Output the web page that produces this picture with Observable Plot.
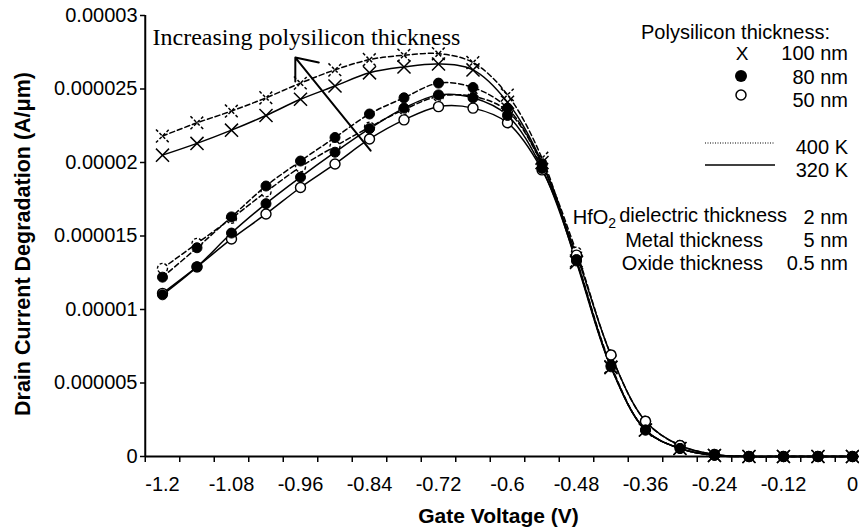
<!DOCTYPE html>
<html>
<head>
<meta charset="utf-8">
<script src="https://cdn.jsdelivr.net/npm/d3@7"></script>
<script src="https://cdn.jsdelivr.net/npm/@observablehq/plot@0.6"></script>
<style>
  html, body { margin: 0; padding: 0; background: #fff; }
  #chart { width: 859px; height: 528px; }
</style>
</head>
<body>
<div id="chart"></div>
<script>
// Gate voltage categories (V)
const voltage = [-1.2, -1.14, -1.08, -1.02, -0.96, -0.9, -0.84, -0.78, -0.72, -0.66, -0.6,
                 -0.54, -0.48, -0.42, -0.36, -0.3, -0.24, -0.18, -0.12, -0.06, 0];

// Drain current degradation (A/µm)
const poly100_400K = [2.18e-5, 2.27e-5, 2.35e-5, 2.44e-5, 2.54e-5, 2.63e-5, 2.70e-5, 2.73e-5, 2.74e-5, 2.68e-5, 2.46e-5,
                      2.03e-5, 1.33e-5, 6.1e-6, 1.8e-6, 5.5e-7, 7e-8, 0, 0, 0, 0];
const poly100_320K = [2.05e-5, 2.13e-5, 2.22e-5, 2.32e-5, 2.43e-5, 2.52e-5, 2.61e-5, 2.65e-5, 2.67e-5, 2.63e-5, 2.41e-5,
                      2.00e-5, 1.32e-5, 6.05e-6, 1.8e-6, 5.4e-7, 7e-8, 0, 0, 0, 0];
const poly80_400K  = [1.22e-5, 1.42e-5, 1.63e-5, 1.84e-5, 2.01e-5, 2.17e-5, 2.33e-5, 2.44e-5, 2.54e-5, 2.51e-5, 2.37e-5,
                      1.99e-5, 1.34e-5, 6.2e-6, 1.8e-6, 5.5e-7, 1e-7, 0, 0, 0, 0];
const poly80_320K  = [1.10e-5, 1.29e-5, 1.52e-5, 1.72e-5, 1.90e-5, 2.07e-5, 2.23e-5, 2.37e-5, 2.46e-5, 2.44e-5, 2.32e-5,
                      1.96e-5, 1.33e-5, 6.1e-6, 1.8e-6, 5.4e-7, 7e-8, 0, 0, 0, 0];
const poly50_400K  = [1.28e-5, 1.45e-5, 1.62e-5, 1.80e-5, 1.97e-5, 2.11e-5, 2.24e-5, 2.36e-5, 2.45e-5, 2.45e-5, 2.35e-5,
                      1.99e-5, 1.39e-5, 6.9e-6, 2.4e-6, 7.5e-7, 1.4e-7, 0, 0, 0, 0];
const poly50_320K  = [1.11e-5, 1.29e-5, 1.48e-5, 1.65e-5, 1.83e-5, 1.99e-5, 2.16e-5, 2.29e-5, 2.38e-5, 2.37e-5, 2.27e-5,
                      1.95e-5, 1.37e-5, 6.9e-6, 2.4e-6, 7.5e-7, 1.4e-7, 0, 0, 0, 0];

// Axis ticks
const yTicks = [0, 0.000005, 0.00001, 0.000015, 0.00002, 0.000025, 0.00003];
const xTickLabels = [-1.2, -1.08, -0.96, -0.84, -0.72, -0.6, -0.48, -0.36, -0.24, -0.12, 0];

// Legend / annotation texts
const thicknessLabels = ["100 nm", "80 nm", "50 nm"];
const tempLabels = ["400 K", "320 K"];
const annotation = "Increasing polysilicon thickness";
const arrowTail = {x: -0.838, y: 2.08e-5};
const arrowTip  = {x: -0.969, y: 2.714e-5};

const series = [
  {thick: "100 nm", temp: "400 K", values: poly100_400K},
  {thick: "100 nm", temp: "320 K", values: poly100_320K},
  {thick: "50 nm",  temp: "400 K", values: poly50_400K},
  {thick: "50 nm",  temp: "320 K", values: poly50_320K},
  {thick: "80 nm",  temp: "400 K", values: poly80_400K},
  {thick: "80 nm",  temp: "320 K", values: poly80_320K}
];

const rows = series.flatMap(s => voltage.map((v, i) => ({v, y: s.values[i], thick: s.thick, temp: s.temp})));

// category boundaries for tick marks
const step = 0.06;
const xBoundaries = voltage.map(v => v - step / 2).concat([voltage[voltage.length - 1] + step / 2]);

const yFmt = d => d === 0 ? "0" : d.toFixed(6).replace(/0+$/, "");
const xFmt = d => d === 0 ? "0" : String(+d.toFixed(2));

const lineMarks = series.map(s => Plot.line(rows.filter(r => r.thick === s.thick && r.temp === s.temp), {
  x: "v", y: "y", curve: "catmull-rom", stroke: "#000", strokeWidth: 1.5,
  strokeDasharray: s.temp === "400 K" ? "5,3" : null
}));

const dotMarks = [];
series.forEach(s => {
  const data = rows.filter(r => r.thick === s.thick && r.temp === s.temp);
  const dash = s.temp === "400 K" ? "3,2" : null;
  if (s.thick === "100 nm") {
    dotMarks.push(Plot.dot(data, {x: "v", y: "y", symbol: "times", r: 6, stroke: "#000", strokeWidth: 1.5, strokeDasharray: dash}));
  } else if (s.thick === "50 nm") {
    dotMarks.push(Plot.dot(data, {x: "v", y: "y", symbol: "circle", r: 5, fill: "#fff", stroke: "#000", strokeWidth: 1.4, strokeDasharray: dash}));
  } else {
    dotMarks.push(Plot.dot(data, {x: "v", y: "y", symbol: "circle", r: 5, fill: "#000", stroke: "#000", strokeWidth: 1}));
  }
});

const chart = Plot.plot({
  width: 859,
  height: 528,
  marginTop: 15,
  marginBottom: 72,
  marginLeft: 145,
  marginRight: 0,
  style: {fontFamily: "'Liberation Sans', Arial, sans-serif", fontSize: "20px", color: "#000", background: "#fff", overflow: "visible"},
  x: {domain: [-1.23, 0.03], range: [144.75, 869.25]},
  y: {domain: [0, 0.00003], range: [456, 15]},
  marks: [
    Plot.axisY({ticks: yTicks, tickSize: 5, tickPadding: 3, tickFormat: yFmt, label: null, strokeWidth: 1.5}),
    Plot.axisX({ticks: xBoundaries, tickSize: 6, tickFormat: () => "", label: null, strokeWidth: 1.5}),
    Plot.axisX({ticks: xTickLabels, tickSize: 0, tickPadding: 20, tickFormat: xFmt, label: null}),
    Plot.ruleX([-1.23], {strokeWidth: 2}),
    Plot.ruleY([0], {strokeWidth: 2}),
    ...lineMarks,
    ...dotMarks,
    Plot.arrow([0], {x1: () => arrowTail.x, y1: () => arrowTail.y, x2: () => arrowTip.x, y2: () => arrowTip.y,
                     stroke: "#000", strokeWidth: 2, headLength: 18, headAngle: 78}),
    Plot.text([annotation], {frameAnchor: "top-left", dx: 7, dy: 22, textAnchor: "start", lineAnchor: "middle",
                             fontFamily: "'Liberation Serif', 'Times New Roman', serif", fontSize: 24}),
    Plot.text(["Drain Current Degradation (A/μm)"], {frameAnchor: "left", rotate: -90, dx: -122, dy: 8, textAnchor: "middle",
                                                      lineAnchor: "middle", fontWeight: "bold", fontSize: 21.5}),
    Plot.text(["Gate Voltage (V)"], {frameAnchor: "bottom", dx: -4, dy: 60, lineAnchor: "middle", fontWeight: "bold", fontSize: 21})
  ]
});

document.getElementById("chart").appendChild(chart);

// Legend and parameter block
const svg = d3.select(chart);
const g = svg.append("g")
  .attr("font-family", "'Liberation Sans', Arial, sans-serif")
  .attr("font-size", 20)
  .attr("fill", "#000");

g.append("text").attr("x", 830).attr("y", 32).attr("dy", "0.35em").attr("text-anchor", "end").text("Polysilicon thickness:");
const rowY = [53, 77, 100];
thicknessLabels.forEach((t, i) => {
  g.append("text").attr("x", 848).attr("y", rowY[i]).attr("dy", "0.35em").attr("text-anchor", "end").text(t);
});
g.append("text").attr("x", 742).attr("y", rowY[0]).attr("dy", "0.35em").attr("text-anchor", "middle").attr("font-size", 19).text("X");
g.append("circle").attr("cx", 741).attr("cy", 76).attr("r", 6).attr("fill", "#000");
g.append("circle").attr("cx", 741).attr("cy", 95).attr("r", 5).attr("fill", "#fff").attr("stroke", "#000").attr("stroke-width", 1.5);

const tempY = [147, 170];
tempLabels.forEach((t, i) => {
  g.append("text").attr("x", 848).attr("y", tempY[i]).attr("dy", "0.35em").attr("text-anchor", "end").text(t);
});
g.append("line").attr("x1", 705).attr("x2", 775).attr("y1", 143).attr("y2", 143)
  .attr("stroke", "#000").attr("stroke-width", 1).attr("stroke-dasharray", "1,1.5");
g.append("line").attr("x1", 705).attr("x2", 775).attr("y1", 165).attr("y2", 165)
  .attr("stroke", "#000").attr("stroke-width", 1.4);

const t1 = g.append("text").attr("x", 787).attr("y", 217).attr("dy", "0.35em").attr("text-anchor", "end");
t1.append("tspan").text("HfO");
t1.append("tspan").attr("font-size", 14).attr("dy", "0.3em").text("2");
t1.append("tspan").attr("dy", "-0.3em").attr("dx", 3).text("dielectric thickness");
g.append("text").attr("x", 848).attr("y", 217).attr("dy", "0.35em").attr("text-anchor", "end").text("2 nm");
g.append("text").attr("x", 763).attr("y", 240).attr("dy", "0.35em").attr("text-anchor", "end").text("Metal thickness");
g.append("text").attr("x", 848).attr("y", 240).attr("dy", "0.35em").attr("text-anchor", "end").text("5 nm");
g.append("text").attr("x", 763).attr("y", 263).attr("dy", "0.35em").attr("text-anchor", "end").text("Oxide thickness");
g.append("text").attr("x", 848).attr("y", 263).attr("dy", "0.35em").attr("text-anchor", "end").text("0.5 nm");
</script>
</body>
</html>
